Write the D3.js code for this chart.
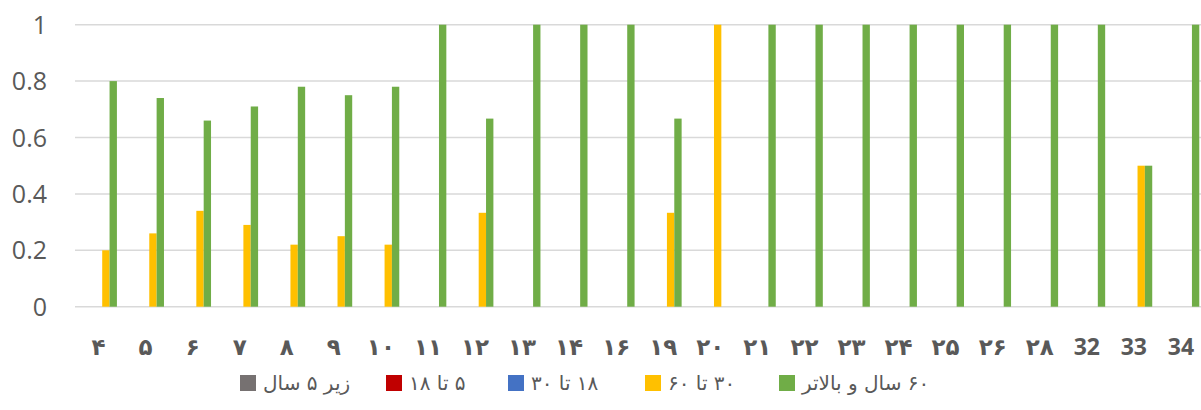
<!DOCTYPE html>
<html lang="fa">
<head>
<meta charset="utf-8">
<script src="https://cdn.jsdelivr.net/npm/d3@7/dist/d3.min.js"></script>
<style>
  html, body { margin: 0; padding: 0; background: #fff; }
  svg { display: block; }
</style>
</head>
<body>
<svg id="chart" width="1201" height="410"></svg>
<script>
// Category labels along the x axis
const categories = ["۴","۵","۶","۷","۸","۹","۱۰","۱۱","۱۲","۱۳","۱۴","۱۶","۱۹","۲۰","۲۱","۲۲","۲۳","۲۴","۲۵","۲۶","۲۸","32","33","34"];

// Series names (legend) and their values per category
const seriesNames = ["زیر ۵ سال", "۵ تا ۱۸", "۱۸ تا ۳۰", "۳۰ تا ۶۰", "۶۰ سال و بالاتر"];
const under5    = [0,0,0,0,0,0,0,0,0,0,0,0,0,0,0,0,0,0,0,0,0,0,0,0];
const age5to18  = [0,0,0,0,0,0,0,0,0,0,0,0,0,0,0,0,0,0,0,0,0,0,0,0];
const age18to30 = [0,0,0,0,0,0,0,0,0,0,0,0,0,0,0,0,0,0,0,0,0,0,0,0];
const age30to60 = [0.2,0.26,0.34,0.29,0.22,0.25,0.22,0,0.333,0,0,0,0.333,1,0,0,0,0,0,0,0,0,0.5,0];
const age60plus = [0.8,0.74,0.66,0.71,0.78,0.75,0.78,1,0.667,1,1,1,0.667,0,1,1,1,1,1,1,1,1,0.5,1];

// Y axis ticks and their labels
const yTicks = [0, 0.2, 0.4, 0.6, 0.8, 1];
const yTickLabels = ["0", "0.2", "0.4", "0.6", "0.8", "1"];

const seriesValues = [under5, age5to18, age18to30, age30to60, age60plus];
const colors = ["#767171", "#c00000", "#4472c4", "#ffc000", "#70ad47"];

const svg = d3.select("#chart");

const plotLeft = 75;
const step = 47.06;
const x = d3.scaleBand()
  .domain(categories)
  .range([plotLeft, plotLeft + step * categories.length])
  .paddingInner(0).paddingOuter(0);

const xInner = d3.scaleBand()
  .domain(d3.range(seriesNames.length))
  .range([0, x.bandwidth()])
  .paddingInner(0).paddingOuter(0.7);

const y = d3.scaleLinear().domain([0, 1]).range([306.7, 24.7]);

// Horizontal gridlines
svg.append("g")
  .selectAll("line")
  .data(yTicks)
  .join("line")
  .attr("x1", plotLeft)
  .attr("x2", 1201)
  .attr("y1", d => y(d))
  .attr("y2", d => y(d))
  .attr("stroke", "#d9d9d9")
  .attr("stroke-width", 1.5);

// Y axis labels
svg.append("g")
  .selectAll("text")
  .data(yTicks)
  .join("text")
  .attr("x", 47)
  .attr("y", d => y(d))
  .attr("dy", "0.36em")
  .attr("text-anchor", "end")
  .attr("font-family", "'Open Sans', sans-serif")
  .attr("font-size", 25)
  .attr("fill", "#595959")
  .text((d, i) => yTickLabels[i]);

// Bars
const barData = [];
seriesValues.forEach((vals, s) => {
  vals.forEach((v, i) => {
    if (v > 0) barData.push({ s, cat: categories[i], v });
  });
});

svg.append("g")
  .selectAll("rect")
  .data(barData)
  .join("rect")
  .attr("x", d => x(d.cat) + xInner(d.s))
  .attr("width", xInner.bandwidth())
  .attr("y", d => y(d.v))
  .attr("height", d => y(0) - y(d.v))
  .attr("fill", d => colors[d.s]);

// X axis labels
svg.append("g")
  .selectAll("text")
  .data(categories)
  .join("text")
  .attr("x", d => x(d) + x.bandwidth() / 2)
  .attr("y", 355)
  .attr("text-anchor", "middle")
  .attr("font-family", "'Open Sans', 'DejaVu Sans', sans-serif")
  .attr("font-weight", "bold")
  .attr("font-size", 23)
  .attr("fill", "#595959")
  .text(d => d);

// Legend (right-to-left text, left edge placed next to the swatch)
const legendX = [240, 386, 508, 645, 779];
const legend = svg.append("g")
  .selectAll("g")
  .data(seriesNames)
  .join("g")
  .attr("transform", (d, i) => `translate(${legendX[i]},375)`);

legend.append("rect")
  .attr("width", 16)
  .attr("height", 16)
  .attr("fill", (d, i) => colors[i]);

legend.append("text")
  .attr("x", 23)
  .attr("y", 15)
  .attr("direction", "rtl")
  .attr("text-anchor", "end")
  .attr("font-family", "'DejaVu Sans', sans-serif")
  .attr("font-size", 20)
  .attr("fill", "#595959")
  .text(d => d);
</script>
</body>
</html>
